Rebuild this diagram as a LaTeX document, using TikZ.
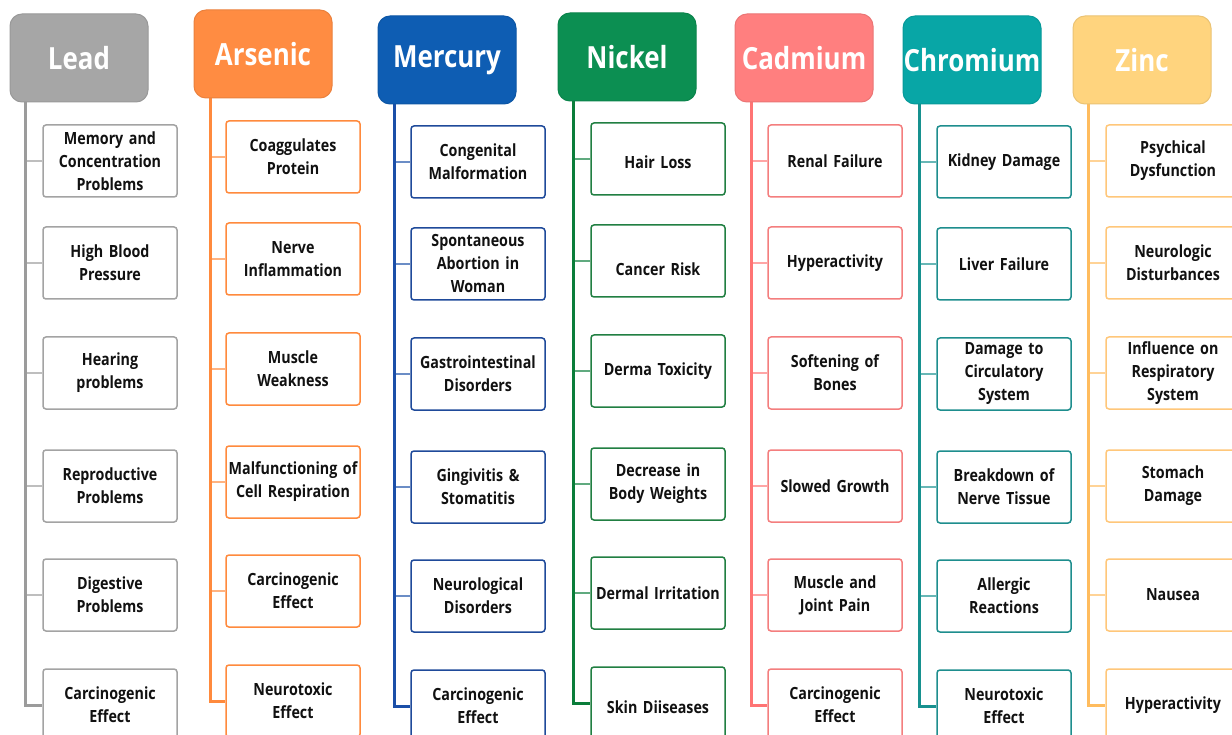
\documentclass[tikz,border=0pt]{standalone}
\usepackage{fontspec}
\setmainfont{Open Sans}[FakeStretch=0.85]
\definecolor{LeadH}{HTML}{A6A6A6}\definecolor{LeadL}{HTML}{9B9B9B}\definecolor{LeadB}{HTML}{A3A3A3}
\definecolor{ArsH}{HTML}{FF8C42}\definecolor{ArsL}{HTML}{FF8A3D}\definecolor{ArsB}{HTML}{FF8A3D}
\definecolor{MerH}{HTML}{0E5DB3}\definecolor{MerL}{HTML}{1B4FA8}\definecolor{MerB}{HTML}{1F4A9A}
\definecolor{NicH}{HTML}{0C8F52}\definecolor{NicL}{HTML}{0B7D3A}\definecolor{NicB}{HTML}{217F42}
\definecolor{CadH}{HTML}{FF7F7F}\definecolor{CadL}{HTML}{FF7474}\definecolor{CadB}{HTML}{F47E7E}
\definecolor{ChrH}{HTML}{08A6A6}\definecolor{ChrL}{HTML}{17918F}\definecolor{ChrB}{HTML}{1E8E8E}
\definecolor{ZinH}{HTML}{FFD47E}\definecolor{ZinL}{HTML}{FFBC5E}\definecolor{ZinB}{HTML}{FFC77A}
\definecolor{txt}{HTML}{111111}
\tikzset{
  head/.style={rounded corners=12pt, minimum width=138pt, minimum height=88pt, inner sep=0pt,
    text=white, font=\bfseries\fontsize{30.5}{32}\selectfont, line width=1pt},
  item/.style={rounded corners=3pt, minimum width=134pt, minimum height=72pt, inner sep=0pt,
    fill=white, line width=1.5pt, text=txt, align=center, text width=134pt,
    font=\bfseries\fontsize{16.8}{23}\selectfont},
  conn/.style={line width=1.4pt},
  spine/.style={line width=3pt},
}
\newcommand\metalcol[9]{%
  \coordinate (#1L) at (#4,#3+88);
  \foreach \t [count=\i] in {#9}{%
    \pgfmathsetmacro\ty{{125,227,337,450,559,669}[\i-1]+36+(#6)}
    \node[item, draw=#7B] (#1b\i) at (#5+67,\ty) {\t};
  }
  \foreach \i in {1,...,5}{\draw[conn, draw=#7L!65] (#1b\i.west) -- (#1b\i.west -| #1L);}
  \draw[spine, draw=#7L] (#1L) |- (#1b6.west);
  \node[head, fill=#7H, draw=#7H!92!black] (#1h) at (#2+69,#3+44) {#8};
}
\begin{document}
\begin{tikzpicture}[x=1pt,y=-1pt]
\useasboundingbox (0,0) rectangle (1232,735);
\clip (0,0) rectangle (1232,735);
\fill[white] (0,0) rectangle (1232,735);
\metalcol{pb}{10}{14}{25}{43}{0}{Lead}{Lead}{Memory and\\Concentration\\Problems,High Blood\\Pressure,Hearing\\problems,Reproductive\\Problems,Digestive\\Problems,Carcinogenic\\Effect}
\metalcol{as}{194}{10}{210}{226}{-4}{Ars}{Arsenic}{Coaggulates\\Protein,Nerve\\Inflammation,Muscle\\Weakness,Malfunctioning of\\Cell Respiration,Carcinogenic\\Effect,Neurotoxic\\Effect}
\metalcol{hg}{378}{16}{394}{411}{1}{Mer}{Mercury}{Congenital\\Malformation,Spontaneous\\Abortion in\\Woman,Gastrointestinal\\Disorders,Gingivitis \&\\Stomatitis,Neurological\\Disorders,Carcinogenic\\Effect}
\metalcol{ni}{558}{13}{573}{591}{-2}{Nic}{Nickel}{\rule{0pt}{20pt}Hair Loss,\rule{0pt}{30pt}Cancer Risk,Derma Toxicity,Decrease in\\Body Weights,Dermal Irritation,\rule{0pt}{22pt}Skin Diiseases}
\metalcol{cd}{735}{14}{751}{768}{0}{Cad}{Cadmium}{Renal Failure,Hyperactivity,Softening of\\Bones,Slowed Growth,Muscle and\\Joint Pain,Carcinogenic\\Effect}
\metalcol{cr}{903}{16}{919}{937}{1}{Chr}{Chromium}{Kidney Damage,Liver Failure,Damage to\\Circulatory\\System,Breakdown of\\Nerve Tissue,Allergic\\Reactions,Neurotoxic\\Effect}
\metalcol{zn}{1073}{16}{1088}{1106}{0}{Zin}{Zinc}{Psychical\\Dysfunction,Neurologic\\Disturbances,Influence on\\Respiratory\\System,Stomach\\Damage,Nausea,Hyperactivity}
\end{tikzpicture}
\end{document}
